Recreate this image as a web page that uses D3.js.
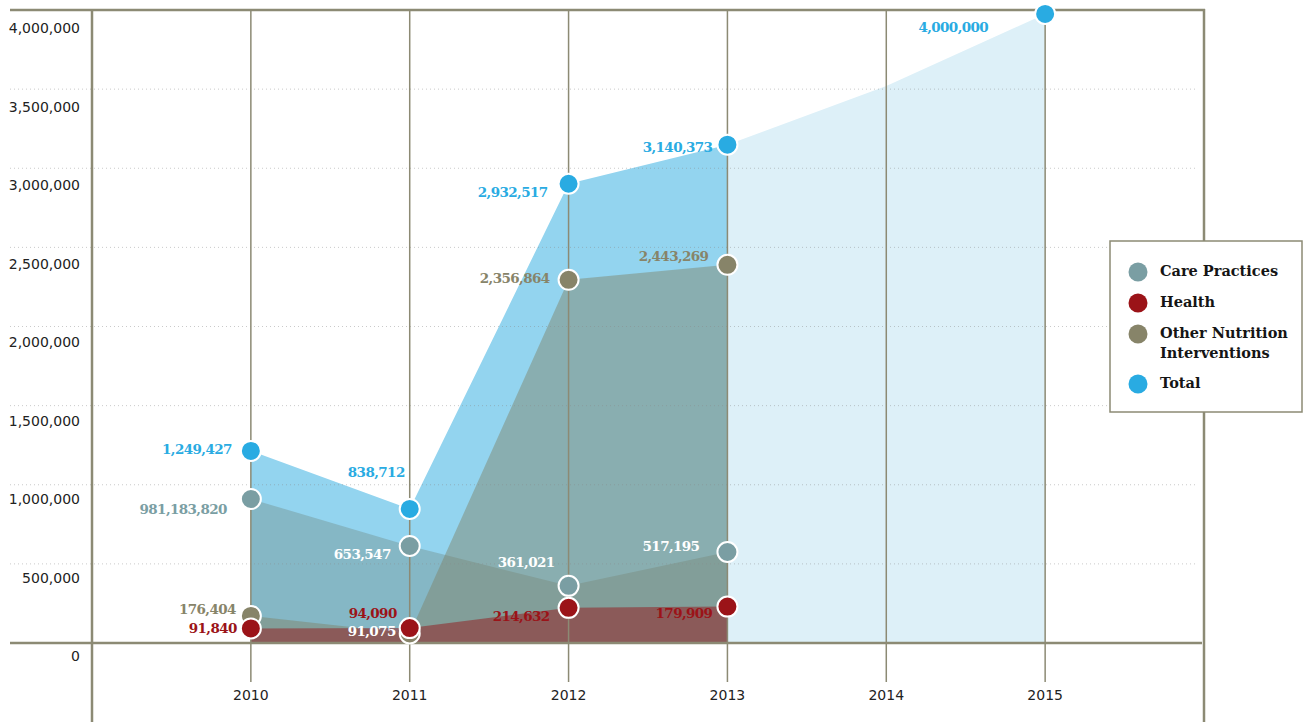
<!DOCTYPE html>
<html>
<head>
<meta charset="utf-8">
<script src="https://cdn.jsdelivr.net/npm/d3@7"></script>
<style>
  html, body { margin: 0; padding: 0; background: #fff; }
  svg { display: block; }
</style>
</head>
<body>
<svg id="chart" width="1307" height="722"></svg>
<script>
// data
const years = [2010, 2011, 2012, 2013];
const projYears = [2013, 2014, 2015];
const axisYears = [2010, 2011, 2012, 2013, 2014, 2015];
const yTicks = [0, 500000, 1000000, 1500000, 2000000, 2500000, 3000000, 3500000, 4000000];

// plotted heights (as drawn) and the printed labels
const totalVals = [1214000, 847000, 2902000, 3149000];
const totalProj = [3149000, 3520000, 3975000];
const careVals = [910000, 613000, 361000, 575000];
const otherVals = [171000, 60000, 2295000, 2390000];
const healthVals = [91840, 94090, 222000, 230000];

const totalLabels = ['1,249,427', '838,712', '2,932,517', '3,140,373'];
const projLabel = '4,000,000';
const careLabels = ['981,183,820', '653,547', '361,021', '517,195'];
const otherLabels = ['176,404', '91,075', '2,356,864', '2,443,269'];
const healthLabels = ['91,840', '94,090', '214,632', '179,909'];

const legendNames = [['Care Practices'], ['Health'], ['Other Nutrition', 'Interventions'], ['Total']];

const colors = {
  care: '#7a9ea3',
  health: '#9b1318',
  other: '#878469',
  total: '#29abe2',
  line: '#8c8a74'
};

const svg = d3.select('#chart');

const x = d3.scaleLinear().domain([2009, 2016]).range([92, 1204]);
const y = d3.scaleLinear().domain([0, 4000000]).range([643, 10]);
const yLab = d3.scaleLinear().domain([0, 4000000]).range([657, 29]);

const area = d3.area()
  .x(d => x(d[0]))
  .y0(y(0))
  .y1(d => y(d[1]));

const zip = (ys, vs) => ys.map((yr, i) => [yr, vs[i]]);

// areas: projection, total, care, other, health
svg.append('path').attr('d', area(zip(projYears, totalProj))).attr('fill', '#ddf0f8');
svg.append('path').attr('d', area(zip(years, totalVals))).attr('fill', '#93d4ef');
svg.append('path').attr('d', area(zip(years, careVals))).attr('fill', colors.care).attr('fill-opacity', 0.55);
svg.append('path').attr('d', area(zip(years, otherVals))).attr('fill', '#7f8063').attr('fill-opacity', 0.45);
svg.append('path').attr('d', area(zip(years, healthVals))).attr('fill', '#93161a').attr('fill-opacity', 0.5);

// dotted grid
svg.append('g').selectAll('line')
  .data(yTicks.filter(v => v > 0 && v < 4000000))
  .join('line')
  .attr('x1', 10).attr('x2', 1198)
  .attr('y1', d => y(d)).attr('y2', d => y(d))
  .attr('stroke', '#8a8a8a').attr('stroke-opacity', 0.45)
  .attr('stroke-width', 1).attr('stroke-dasharray', '1,3');

// year lines
svg.append('g').selectAll('line')
  .data(axisYears)
  .join('line')
  .attr('x1', d => x(d)).attr('x2', d => x(d))
  .attr('y1', y(4000000)).attr('y2', 682)
  .attr('stroke', colors.line).attr('stroke-width', 1.5);

// frame
svg.append('line').attr('x1', 10).attr('x2', 1205).attr('y1', y(4000000)).attr('y2', y(4000000))
  .attr('stroke', colors.line).attr('stroke-width', 2.5);
svg.append('line').attr('x1', 10).attr('x2', 1202).attr('y1', y(0)).attr('y2', y(0))
  .attr('stroke', colors.line).attr('stroke-width', 2.5);
svg.append('line').attr('x1', x(2009)).attr('x2', x(2009)).attr('y1', 9).attr('y2', 722)
  .attr('stroke', colors.line).attr('stroke-width', 2.5);
svg.append('line').attr('x1', x(2016)).attr('x2', x(2016)).attr('y1', 9).attr('y2', 722)
  .attr('stroke', colors.line).attr('stroke-width', 2.5);

// axis labels
svg.append('g').selectAll('text')
  .data(yTicks)
  .join('text')
  .attr('x', 80).attr('y', d => yLab(d))
  .attr('text-anchor', 'end').attr('dominant-baseline', 'middle')
  .attr('font-family', 'DejaVu Sans').attr('font-size', 14).attr('fill', '#222')
  .text(d => d3.format(',')(d));

svg.append('g').selectAll('text')
  .data(axisYears)
  .join('text')
  .attr('x', d => x(d)).attr('y', 696)
  .attr('text-anchor', 'middle').attr('dominant-baseline', 'middle')
  .attr('font-family', 'DejaVu Sans').attr('font-size', 14).attr('fill', '#222')
  .text(d => d);

// points + labels; offsets are label placement relative to each dot
function series(vals, yrs, fill, labels, labelColors, offsets) {
  const g = svg.append('g');
  g.selectAll('circle')
    .data(zip(yrs, vals))
    .join('circle')
    .attr('cx', d => x(d[0])).attr('cy', d => y(d[1]))
    .attr('r', 10).attr('fill', fill)
    .attr('stroke', '#fff').attr('stroke-width', 2);
  return { g, vals, yrs, labels, labelColors, offsets };
}

function drawLabels(s) {
  s.g.selectAll('text')
    .data(zip(s.yrs, s.vals))
    .join('text')
    .attr('x', (d, i) => x(d[0]) + s.offsets[i][0])
    .attr('y', (d, i) => y(d[1]) + s.offsets[i][1])
    .attr('text-anchor', 'end').attr('dominant-baseline', 'middle')
    .attr('font-family', 'DejaVu Serif').attr('font-weight', 'bold').attr('font-size', 13.5)
    .attr('letter-spacing', -0.6)
    .attr('fill', (d, i) => s.labelColors[i])
    .text((d, i) => s.labels[i]);
}

const care = series(careVals, years, colors.care, careLabels,
  [colors.care, '#fff', '#fff', '#fff'],
  [[-24, 12], [-19, 10], [-14, -22], [-28, -5]]);
const other = series(otherVals, years, colors.other, otherLabels,
  [colors.other, '#fff', colors.other, colors.other],
  [[-15, -5], [-14, -1], [-19, 0], [-19, -7]]);
const health = series(healthVals, years, colors.health, healthLabels,
  [colors.health, colors.health, colors.health, colors.health],
  [[-14, 1], [-13, -14], [-19, 10], [-15, 8]]);
const total = series(totalVals, years, colors.total, totalLabels,
  [colors.total, colors.total, colors.total, colors.total],
  [[-19, 0], [-5, -35], [-21, 10], [-15, 4]]);
const proj = series([totalProj[2]], [2015], colors.total, [projLabel], [colors.total], [[-57, 15]]);

[care, other, health, total, proj].forEach(drawLabels);

// legend
const leg = svg.append('g');
leg.append('rect').attr('x', 1110).attr('y', 241).attr('width', 192).attr('height', 171)
  .attr('fill', '#fff').attr('stroke', colors.line).attr('stroke-width', 1.5);
const legColors = [colors.care, colors.health, colors.other, colors.total];
const legY = [272, 303, 334, 384];
legendNames.forEach((lines, i) => {
  leg.append('circle').attr('cx', 1138).attr('cy', legY[i]).attr('r', 9.5).attr('fill', legColors[i]);
  lines.forEach((t, j) => {
    leg.append('text')
      .attr('x', 1160).attr('y', legY[i] + j * 20)
      .attr('dominant-baseline', 'middle')
      .attr('font-family', 'DejaVu Serif').attr('font-weight', 'bold').attr('font-size', 14.5)
      .attr('fill', '#151515')
      .text(t);
  });
});
</script>
</body>
</html>
